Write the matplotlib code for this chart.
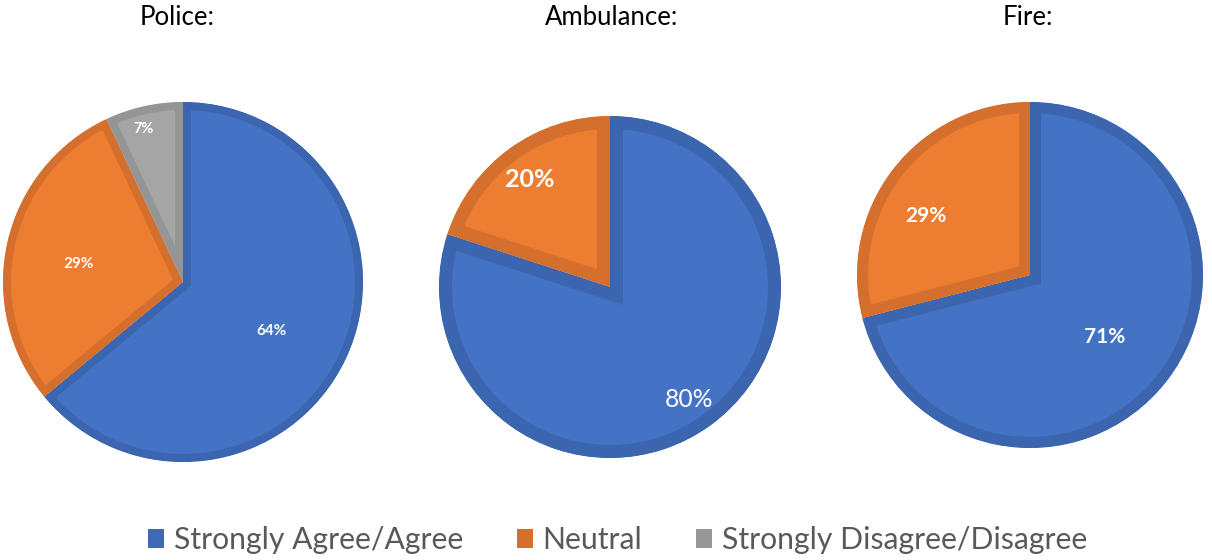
import matplotlib
matplotlib.use('Agg')
import matplotlib.pyplot as plt
from matplotlib.patches import Patch

plt.rcParams['font.family'] = ['Lato', 'DejaVu Sans']

# data
categories = ['Strongly Agree/Agree', 'Neutral', 'Strongly Disagree/Disagree']
services = ['Police:', 'Ambulance:', 'Fire:']
police = [64, 29, 7]
ambulance = [80, 20]
fire = [71, 29]
series = [police, ambulance, fire]

# colours (fill, darker outline)
fills = ['#4472C4', '#ED7D31', '#A5A5A5']
edges = ['#3C65B0', '#D56F2D', '#959595']
legend_cols = ['#3F68B5', '#D46F2D', '#979797']

# layout in pixels (figure is 1212 x 560, y measured from the top)
W, H = 1212, 560
centers = [(183, 282), (610, 287), (1030, 275)]
radii = [180, 171, 173]
border_px = [8, 13, 11]
# label offsets in radius units (x right, y up)
label_pos = [[(0.49, -0.27), (-0.58, 0.10), (-0.22, 0.85)],
             [(0.46, -0.655), (-0.47, 0.63)],
             [(0.43, -0.36), (-0.60, 0.34)]]
label_size = [[11, 11, 10.5], [17.7, 18], [15, 15]]
label_weight = [['bold', 'bold', 'bold'], ['normal', 'bold'], ['bold', 'bold']]
title_x = [177, 612, 1028]

fig = plt.figure(figsize=(W / 100, H / 100), dpi=100)
ax = fig.add_axes([0, 0, 1, 1])

for i, vals in enumerate(series):
    cx, cy = centers[i]
    r = radii[i]
    wedges, _, autotexts = ax.pie(vals, colors=fills[:len(vals)], startangle=90,
                                  counterclock=False, center=(cx, H - cy), radius=r,
                                  autopct=lambda p: f'{p:.0f}%',
                                  wedgeprops=dict(linewidth=2 * border_px[i] * 0.72))
    for j, w in enumerate(wedges):
        w.set_edgecolor(edges[j])
        # keep the outline on the inside of each slice
        w.set_clip_on(True)
        w.set_clip_path(w)
    for j, t in enumerate(autotexts):
        dx, dy = label_pos[i][j]
        t.set_position((cx + dx * r, H - cy + dy * r))
        t.set_color('white')
        t.set_fontsize(label_size[i][j])
        t.set_fontweight(label_weight[i][j])
    ax.text(title_x[i], H - 25, services[i], ha='center', va='baseline',
            fontsize=18.5, color='black')

ax.set_xlim(0, W)
ax.set_ylim(0, H)
ax.set_aspect('equal')
ax.axis('off')

handles = [Patch(facecolor=c, edgecolor='none') for c in legend_cols]
leg = fig.legend(handles, categories, loc='center', bbox_to_anchor=(617.5 / W, 1 - 540 / H),
                 ncol=3, frameon=False, fontsize=21.7, handlelength=0.55, handleheight=0.6,
                 handletextpad=0.32, columnspacing=1.77, borderpad=0)
for t in leg.get_texts():
    t.set_color('#595959')

fig.savefig('out.png', dpi=100)
